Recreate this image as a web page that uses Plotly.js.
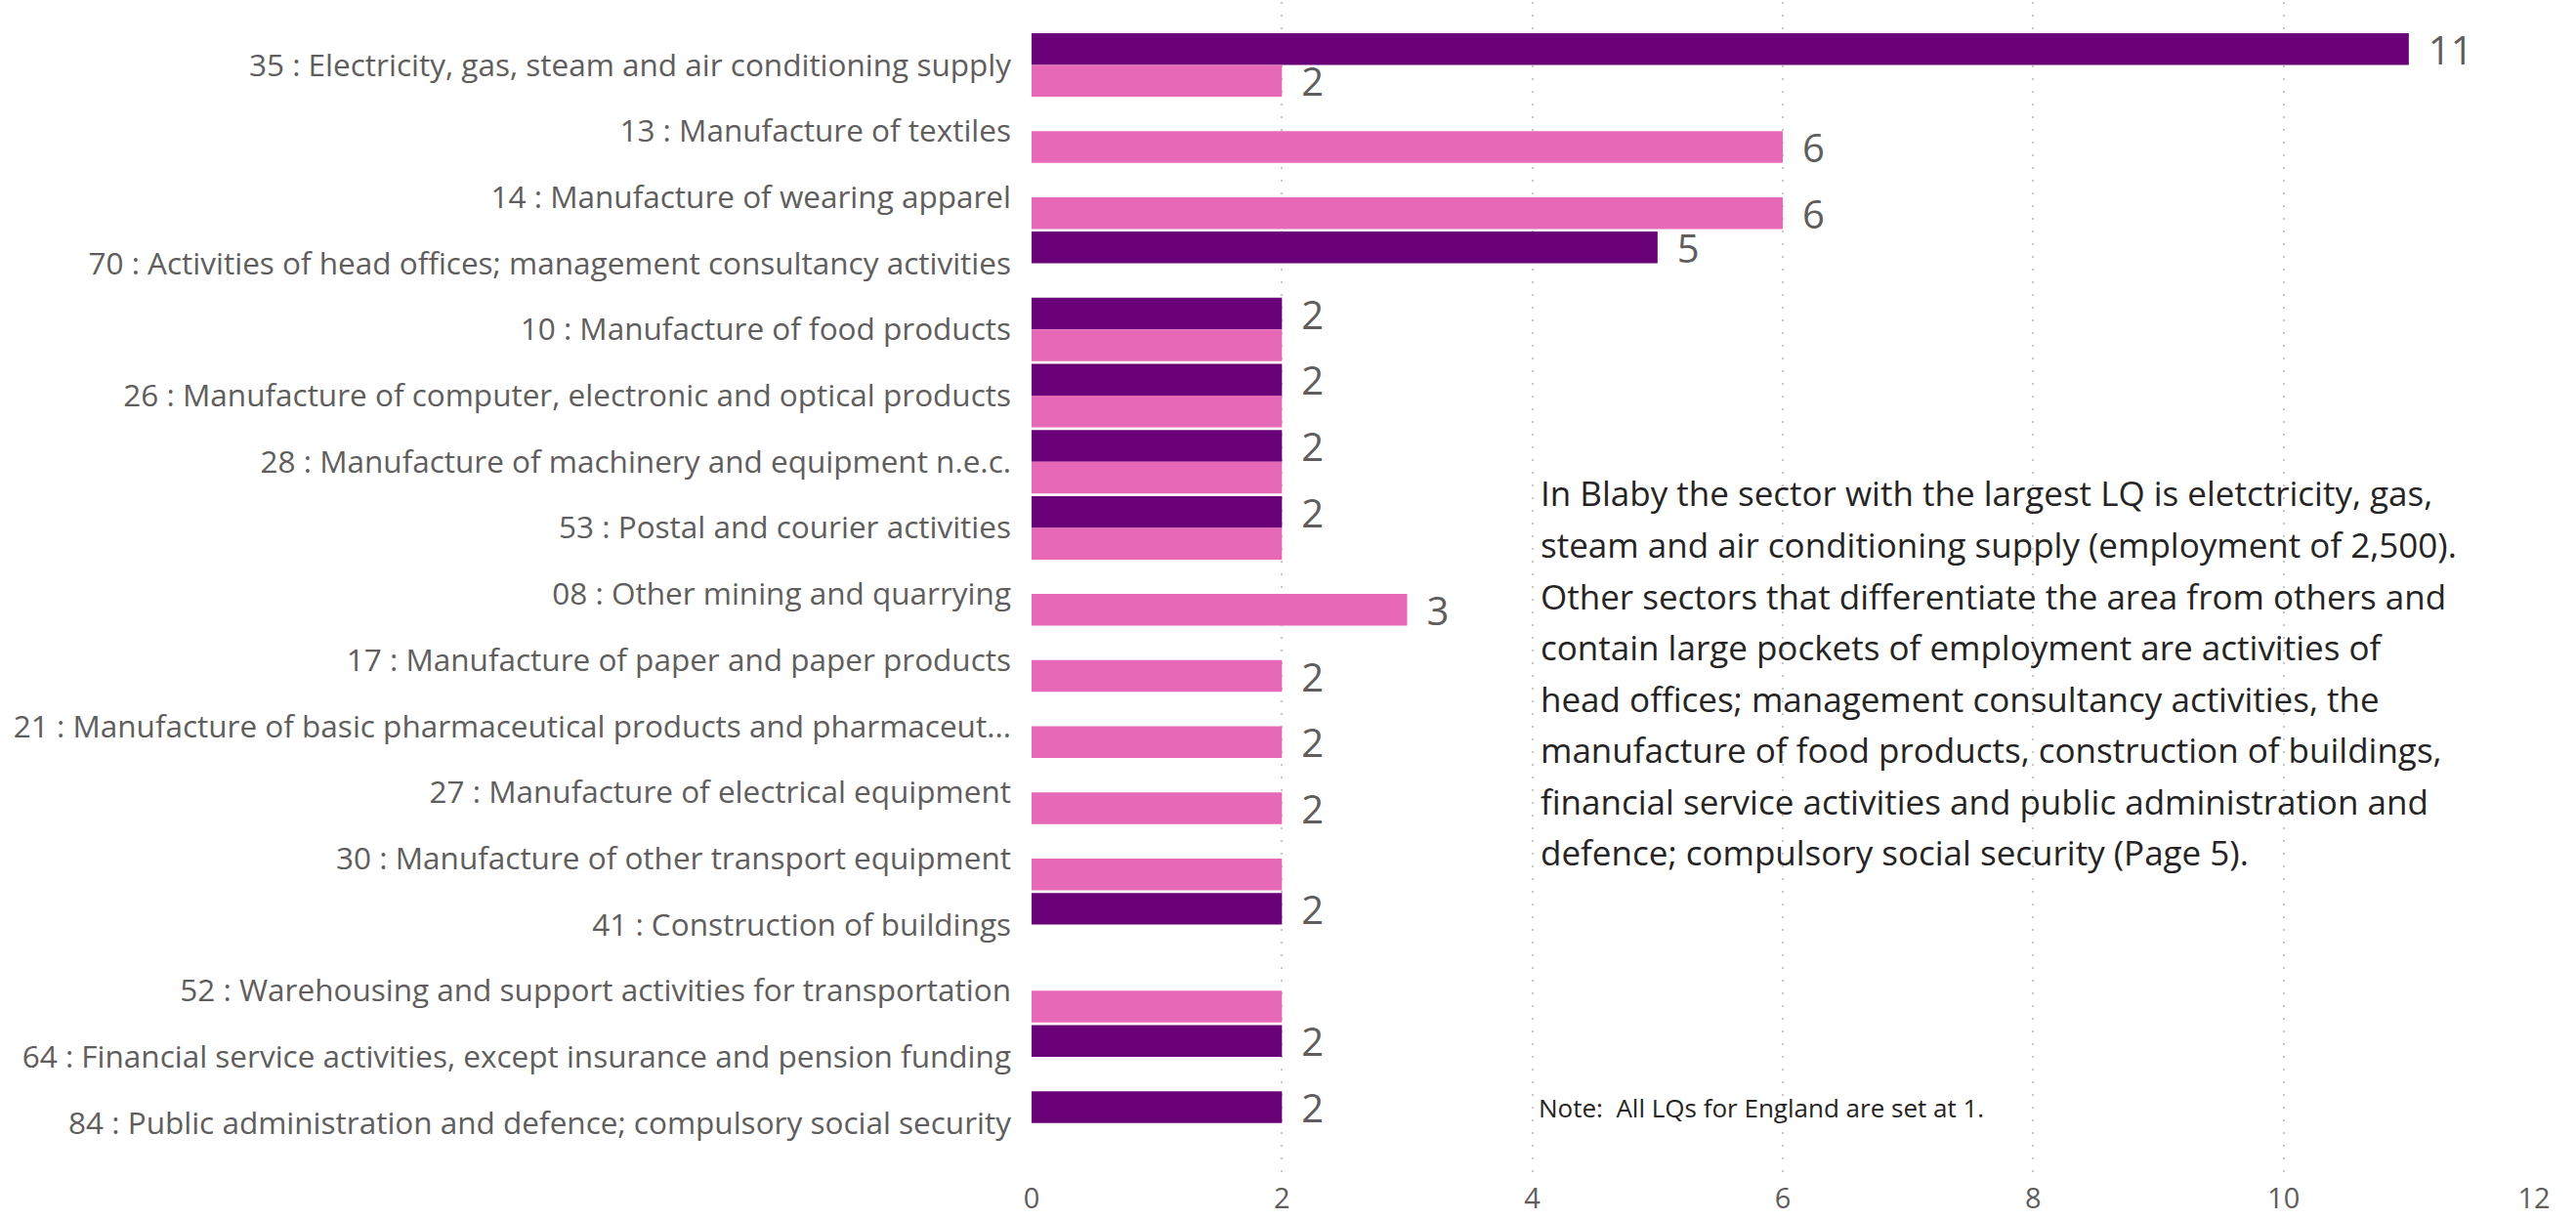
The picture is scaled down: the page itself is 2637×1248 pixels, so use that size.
<!DOCTYPE html>
<html>
<head>
<meta charset="utf-8">
<script src="https://cdn.plot.ly/plotly-3.0.1.min.js"></script>
<style>
  html, body { margin: 0; padding: 0; background: #ffffff; }
  #chart { width: 2637px; height: 1248px; }
</style>
</head>
<body>
<div id="chart"></div>
<script>
// ---------- DATA ----------
const categories = [
  "35 : Electricity, gas, steam and air conditioning supply",
  "13 : Manufacture of textiles",
  "14 : Manufacture of wearing apparel",
  "70 : Activities of head offices; management consultancy activities",
  "10 : Manufacture of food products",
  "26 : Manufacture of computer, electronic and optical products",
  "28 : Manufacture of machinery and equipment n.e.c.",
  "53 : Postal and courier activities",
  "08 : Other mining and quarrying",
  "17 : Manufacture of paper and paper products",
  "21 : Manufacture of basic pharmaceutical products and pharmaceut...",
  "27 : Manufacture of electrical equipment",
  "30 : Manufacture of other transport equipment",
  "41 : Construction of buildings",
  "52 : Warehousing and support activities for transportation",
  "64 : Financial service activities, except insurance and pension funding",
  "84 : Public administration and defence; compulsory social security"
];
const darkValues = [11, null, null, 5, 2, 2, 2, 2, null, null, null, null, null, 2, null, 2, 2];
const pinkValues = [2, 6, 6, null, 2, 2, 2, 2, 3, 2, 2, 2, 2, null, 2, null, null];
// data labels as displayed (overlapping ones hidden in the original)
const darkLabels = ["11", "", "", "5", "2", "2", "2", "2", "", "", "", "", "", "2", "", "2", "2"];
const pinkLabels = ["2", "6", "6", "", "", "", "", "", "3", "2", "2", "2", "", "", "", "", ""];
const xTicks = [0, 2, 4, 6, 8, 10, 12];
const summaryLines = [
  "In Blaby the sector with the largest LQ is eletctricity, gas,",
  "steam and air conditioning supply (employment of 2,500).",
  "Other sectors that differentiate the area from others and",
  "contain large pockets of employment are activities of",
  "head offices; management consultancy activities, the",
  "manufacture of food products, construction of buildings,",
  "financial service activities and public administration and",
  "defence; compulsory social security (Page 5)."
];
const noteText = "Note:\u00A0 All LQs for England are set at 1.";

// ---------- STYLE / LAYOUT ----------
const FONT = "'Segoe UI', 'Open Sans', sans-serif";
const W = 2637, H = 1248;
const M = { l: 1056, r: 43, t: 2, b: 41 };
const plotH = H - M.t - M.b;
const plotW = W - M.l - M.r;
const pxToPaperY = p => (H - M.b - p) / plotH;
const pxToPaperX = p => (p - M.l) / plotW;

const gap = "\u00A0\u2009";

const traces = [
  {
    type: "bar", orientation: "h", name: "Blaby",
    y: categories, x: darkValues,
    marker: { color: "#6A0078" },
    text: darkLabels.map(t => t ? gap + t : ""),
    textposition: "outside", constraintext: "none", cliponaxis: false,
    textfont: { family: FONT, size: 40, color: "#605E5C" },
    hoverinfo: "x+y"
  },
  {
    type: "bar", orientation: "h", name: "Comparison",
    y: categories, x: pinkValues,
    marker: { color: "#E668B6" },
    text: pinkLabels.map(t => t ? gap + t : ""),
    textposition: "outside", constraintext: "none", cliponaxis: false,
    textfont: { family: FONT, size: 40, color: "#605E5C" },
    hoverinfo: "x+y"
  }
];

const annotations = summaryLines.map((line, i) => ({
  text: line, xref: "paper", yref: "paper",
  x: pxToPaperX(1575), y: pxToPaperY(518 + 52.5 * i - 13),
  xanchor: "left", yanchor: "middle", showarrow: false, align: "left",
  font: { family: FONT, size: 35, color: "#252423" }
}));
annotations.push({
  text: noteText, xref: "paper", yref: "paper",
  x: pxToPaperX(1573), y: pxToPaperY(1134),
  xanchor: "left", yanchor: "middle", showarrow: false, align: "left",
  font: { family: FONT, size: 26, color: "#252423" }
});

const layout = {
  width: W, height: H,
  margin: M,
  paper_bgcolor: "#ffffff", plot_bgcolor: "#ffffff",
  showlegend: false,
  barmode: "group", bargap: 0.04, bargroupgap: 0,
  font: { family: FONT, color: "#605E5C" },
  xaxis: {
    range: [0, 12], tickvals: xTicks, ticktext: xTicks.map(String),
    showgrid: true, gridcolor: "#C8C6C4", gridwidth: 2, griddash: "2px,11px",
    zeroline: false, showline: false, ticks: "",
    tickfont: { family: FONT, size: 29, color: "#605E5C" },
    ticklabelstandoff: 0, fixedrange: true
  },
  yaxis: {
    type: "category", categoryorder: "array", categoryarray: categories,
    range: [16.846, -0.953],
    showgrid: false, zeroline: false, showline: false, ticks: "",
    tickfont: { family: FONT, size: 31.5, color: "#605E5C" },
    ticklabelstandoff: 20, automargin: false, fixedrange: true
  },
  annotations: annotations
};

Plotly.newPlot("chart", traces, layout, { displayModeBar: false, staticPlot: true });
</script>
</body>
</html>
